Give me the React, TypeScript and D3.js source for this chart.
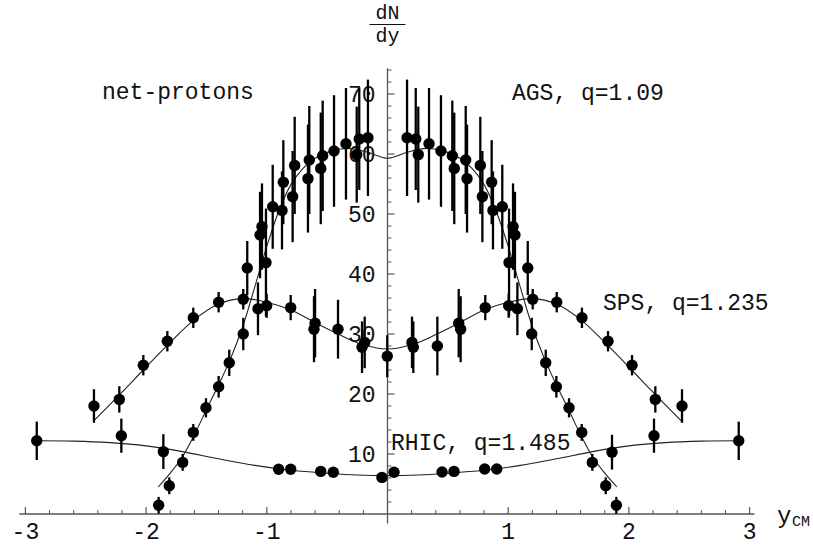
import React from 'react';
import * as d3 from 'd3';

// ---------- AGS, q=1.09 (net-protons) ----------
const agsY = [-1.896, -1.808, -1.697, -1.609, -1.504, -1.399, -1.311, -1.195, -1.162, -1.056, -1.040, -1.007, -0.951, -0.874, -0.863, -0.786, -0.769, -0.659, -0.648, -0.553, -0.537, -0.443, -0.344, -0.255, -0.234, -0.162,
  0.162, 0.234, 0.255, 0.344, 0.443, 0.537, 0.553, 0.648, 0.659, 0.769, 0.786, 0.863, 0.874, 0.951, 1.007, 1.040, 1.056, 1.162, 1.195, 1.311, 1.399, 1.504, 1.609, 1.697, 1.808, 1.896];
const agsN = [1.45, 4.7, 8.6, 13.6, 17.7, 21.2, 25.2, 30.0, 41.0, 46.5, 47.9, 41.9, 51.2, 50.6, 55.3, 52.9, 58.1, 55.9, 59.0, 57.6, 59.7, 60.5, 61.7, 59.9, 62.5, 62.7,
  62.7, 62.5, 59.9, 61.7, 60.5, 59.7, 57.6, 59.0, 55.9, 58.1, 52.9, 55.3, 50.6, 51.2, 41.9, 47.9, 46.5, 41.0, 30.0, 25.2, 21.2, 17.7, 13.6, 8.6, 4.7, 1.45];
const agsErr = [1.4, 1.4, 1.4, 1.4, 1.6, 1.8, 2.2, 2.7, 4.5, 7.2, 7.2, 9.0, 7.0, 6.5, 7.0, 7.6, 8.1, 9.0, 9.0, 9.3, 9.2, 9.3, 9.3, 8.0, 8.5, 9.7,
  9.7, 8.5, 8.0, 9.3, 9.3, 9.2, 9.3, 9.0, 9.0, 8.1, 7.6, 7.0, 6.5, 7.0, 9.0, 7.2, 7.2, 4.5, 2.7, 2.2, 1.8, 1.6, 1.4, 1.4, 1.4, 1.4];
const agsFitY = [-1.90, -1.80, -1.70, -1.60, -1.50, -1.40, -1.30, -1.20, -1.10, -1.00, -0.90, -0.80, -0.70, -0.60, -0.45, -0.30, -0.15, 0.00,
  0.15, 0.30, 0.45, 0.60, 0.70, 0.80, 0.90, 1.00, 1.10, 1.20, 1.30, 1.40, 1.50, 1.60, 1.70, 1.80, 1.90];
const agsFitN = [4.5, 6.8, 9.5, 13.2, 17.4, 21.5, 25.9, 31.2, 37.8, 44.6, 50.5, 54.9, 57.6, 59.3, 60.6, 60.9, 60.2, 59.3,
  60.2, 60.9, 60.6, 59.3, 57.6, 54.9, 50.5, 44.6, 37.8, 31.2, 25.9, 21.5, 17.4, 13.2, 9.5, 6.8, 4.5];

// ---------- SPS, q=1.235 ----------
const spsY = [-2.432, -2.222, -2.023, -1.824, -1.609, -1.399, -1.195, -1.073, -1.001, -0.802, -0.609, -0.600, -0.410, -0.211, -0.189, -0.002,
  0.203, 0.214, 0.413, 0.590, 0.606, 0.810, 1.004, 1.076, 1.203, 1.402, 1.611, 1.827, 2.026, 2.219, 2.440];
const spsN = [18.0, 19.1, 24.8, 28.8, 32.7, 35.3, 35.8, 34.2, 34.7, 34.4, 30.8, 31.8, 30.8, 27.8, 28.6, 26.3,
  28.6, 27.8, 28.0, 31.8, 30.8, 34.4, 34.7, 34.2, 35.8, 35.3, 32.7, 28.8, 24.8, 19.1, 18.0];
const spsErr = [2.8, 2.2, 1.7, 1.7, 1.7, 1.7, 1.7, 4.4, 2.0, 2.1, 5.5, 5.7, 4.9, 4.3, 4.3, 3.5,
  4.3, 4.3, 4.9, 5.7, 5.5, 2.1, 2.0, 4.4, 1.7, 1.7, 1.7, 1.7, 1.7, 2.2, 2.8];
const spsFitY = [-2.44, -2.20, -2.00, -1.80, -1.60, -1.40, -1.20, -1.00, -0.80, -0.60, -0.40, -0.20, 0.00,
  0.20, 0.40, 0.60, 0.80, 1.00, 1.20, 1.40, 1.60, 1.80, 2.00, 2.20, 2.44];
const spsFitN = [15.4, 20.3, 24.5, 28.6, 32.4, 35.0, 35.9, 35.3, 34.0, 31.9, 29.9, 28.2, 27.5,
  28.2, 29.9, 31.9, 34.0, 35.3, 35.9, 35.0, 32.4, 28.6, 24.5, 20.3, 15.4];

// ---------- RHIC, q=1.485 ----------
const rhicY = [-2.906, -2.205, -1.857, -0.902, -0.802, -0.553, -0.449, -0.046, 0.054, 0.452, 0.551, 0.805, 0.905, 1.860, 2.208, 2.910];
const rhicN = [12.2, 13.05, 10.4, 7.45, 7.45, 7.1, 6.95, 6.1, 6.95, 7.0, 7.1, 7.5, 7.5, 10.3, 13.05, 12.2];
const rhicErr = [3.2, 2.85, 2.9, 0.4, 0.4, 0.4, 0.4, 0.4, 0.4, 0.4, 0.4, 0.4, 0.4, 2.9, 2.85, 3.2];
const rhicFitY = [-2.91, -2.60, -2.30, -2.00, -1.70, -1.40, -1.10, -0.80, -0.50, -0.25, 0.00,
  0.25, 0.50, 0.80, 1.10, 1.40, 1.70, 2.00, 2.30, 2.60, 2.91];
const rhicFitN = [12.2, 12.15, 11.9, 11.35, 10.4, 9.2, 8.1, 7.3, 6.8, 6.5, 6.4,
  6.5, 6.8, 7.3, 8.1, 9.2, 10.4, 11.35, 11.9, 12.15, 12.2];

// ---------- axes ----------
const xTickLabels = [-3, -2, -1, 1, 2, 3];
const yTickLabels = [10, 20, 30, 40, 50, 60, 70];
const xRange = [-3.05, 3.04];
const yRange = [-1.6, 74.3];

const FONT = '"Liberation Mono", "DejaVu Sans Mono", monospace';

export default function App() {
  const W = 813, H = 549;
  const x = d3.scaleLinear().domain([-3, 3]).range([25.4, 749.6]);
  const y = d3.scaleLinear().domain([0, 70]).range([514, 94]);
  const line = d3.line<[number, number]>()
    .x(d => x(d[0]))
    .y(d => y(d[1]))
    .curve(d3.curveCatmullRom.alpha(0.5));

  const fits = [
    d3.zip(agsFitY, agsFitN) as [number, number][],
    d3.zip(spsFitY, spsFitN) as [number, number][],
    d3.zip(rhicFitY, rhicFitN) as [number, number][],
  ];
  const series = [
    { u: agsY, v: agsN, e: agsErr },
    { u: spsY, v: spsN, e: spsErr },
    { u: rhicY, v: rhicN, e: rhicErr },
  ];

  const xMinor = d3.range(-15, 16).map(i => i / 5).filter(t => Math.abs(t - Math.round(t)) > 1e-6);
  const yMinor = d3.range(0, 38).map(i => i * 2).filter(t => t % 10 !== 0 && t <= 74);

  const axisColor = '#555';

  return (
    <svg width={W} height={H} style={{ position: 'absolute', left: 0, top: 0, background: '#fff' }}>
      {/* x axis */}
      <line x1={x(xRange[0])} x2={x(xRange[1])} y1={y(0)} y2={y(0)} stroke={axisColor} strokeWidth={1.3} />
      {xMinor.map((t, i) => (
        <line key={'xm' + i} x1={x(t)} x2={x(t)} y1={y(0)} y2={y(0) - 4} stroke={axisColor} strokeWidth={1} />
      ))}
      {xTickLabels.map(t => (
        <g key={'xt' + t}>
          <line x1={x(t)} x2={x(t)} y1={y(0)} y2={y(0) - 7} stroke={axisColor} strokeWidth={1.2} />
          <text x={x(t)} y={539} fontFamily={FONT} fontSize={23} textAnchor="middle" fill="#111">{String(t)}</text>
        </g>
      ))}
      {/* y axis */}
      <line x1={x(0)} x2={x(0)} y1={y(yRange[0])} y2={y(yRange[1])} stroke={axisColor} strokeWidth={1.3} />
      {yMinor.map((t, i) => (
        <line key={'ym' + i} x1={x(0)} x2={x(0) + 4} y1={y(t)} y2={y(t)} stroke={axisColor} strokeWidth={1} />
      ))}
      {yTickLabels.map(t => (
        <g key={'yt' + t}>
          <line x1={x(0)} x2={x(0) + 7} y1={y(t)} y2={y(t)} stroke={axisColor} strokeWidth={1.2} />
          <text x={x(0) - 12} y={y(t)} dy="0.36em" fontFamily={FONT} fontSize={23} textAnchor="end" fill="#111">{String(t)}</text>
        </g>
      ))}

      {/* fitted curves */}
      {fits.map((f, i) => (
        <path key={'fit' + i} d={line(f) || ''} fill="none" stroke="#222" strokeWidth={1.1} />
      ))}

      {/* data with error bars */}
      {series.map((s, si) => (
        <g key={'s' + si}>
          {s.u.map((u, i) => (
            <line key={'e' + i} x1={x(u)} x2={x(u)} y1={y(s.v[i] - s.e[i])} y2={y(s.v[i] + s.e[i])} stroke="#000" strokeWidth={2.3} />
          ))}
          {s.u.map((u, i) => (
            <circle key={'p' + i} cx={x(u)} cy={y(s.v[i])} r={5.7} fill="#000" />
          ))}
        </g>
      ))}

      {/* labels */}
      <text x={102} y={99} fontFamily={FONT} fontSize={23} fill="#111">net-protons</text>
      <text x={512} y={100} fontFamily={FONT} fontSize={23} fill="#111">AGS, q=1.09</text>
      <text x={603} y={310} fontFamily={FONT} fontSize={23} fill="#111">SPS, q=1.235</text>
      <text x={391} y={450} fontFamily={FONT} fontSize={23} fill="#111">RHIC, q=1.485</text>

      {/* y axis title dN/dy */}
      <text x={x(0)} y={19} fontFamily={FONT} fontSize={20} textAnchor="middle" fill="#111">dN</text>
      <line x1={x(0) - 18} x2={x(0) + 18} y1={24.5} y2={24.5} stroke="#111" strokeWidth={1.2} />
      <text x={x(0)} y={42} fontFamily={FONT} fontSize={20} textAnchor="middle" fill="#111">dy</text>

      {/* x axis title */}
      <text x={777} y={523} fontFamily={FONT} fontSize={24} fill="#111">y</text>
      <text x={792} y={526} fontFamily={FONT} fontSize={15} fill="#111">CM</text>
    </svg>
  );
}
